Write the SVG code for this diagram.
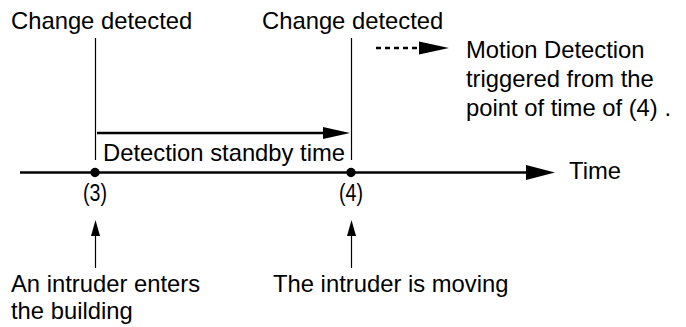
<svg xmlns="http://www.w3.org/2000/svg" width="686" height="327" viewBox="0 0 686 327">
<style>
text{font-family:"Liberation Sans",Arial,sans-serif;font-size:23.8px;fill:#000}
.ln{stroke:#000;fill:none}
.thin{stroke-width:1.2}
.thick{stroke-width:2.5}
.paren{font-size:23.5px}
</style>
<rect width="686" height="327" fill="#fff"/>
<g id="connectors">
  <line class="ln thin" x1="95.5" y1="38" x2="95.5" y2="160"/>
  <line class="ln thin" x1="351.5" y1="38" x2="351.5" y2="160"/>
  <line class="ln thick" x1="97" y1="133" x2="325" y2="133"/>
  <polygon points="323,127 350,133 323,139" fill="#000"/>
  <line class="ln thick" x1="20" y1="172.5" x2="528" y2="172.5"/>
  <polygon points="526,165 555,172.5 526,180" fill="#000"/>
  <line class="ln" x1="376" y1="48" x2="421" y2="48" stroke-width="2.3" stroke-dasharray="5,4"/>
  <polygon points="419,41.5 449,48 419,54.5" fill="#000"/>
  <line class="ln thin" x1="95.5" y1="234" x2="95.5" y2="268"/>
  <polygon points="95.5,220 100,236 91,236" fill="#000"/>
  <line class="ln thin" x1="351.5" y1="234" x2="351.5" y2="268" stroke="#555"/>
  <polygon points="351.5,220 356,236 347,236" fill="#000"/>
</g>
<g id="change1"><text x="11" y="29">Change detected</text></g>
<g id="change2"><text x="262" y="29">Change detected</text></g>
<g id="standby"><text x="103" y="161" font-size="23.7">Detection standby time</text></g>
<g id="p3"><circle cx="95" cy="172.5" r="4.7"/><text class="paren" x="83" y="201" textLength="24" lengthAdjust="spacingAndGlyphs">(3)</text></g>
<g id="p4"><circle cx="351" cy="172.5" r="4.7"/><text class="paren" x="339" y="201" textLength="24" lengthAdjust="spacingAndGlyphs">(4)</text></g>
<g id="time"><text x="569" y="179">Time</text></g>
<g id="motion"><text x="466" y="58">Motion Detection</text><text x="466" y="87">triggered from the</text><text x="466" y="116">point of time of (4) .</text></g>
<g id="intruder1"><text x="11" y="292">An intruder enters</text><text x="11" y="319">the building</text></g>
<g id="intruder2"><text x="273" y="292">The intruder is moving</text></g>
</svg>
